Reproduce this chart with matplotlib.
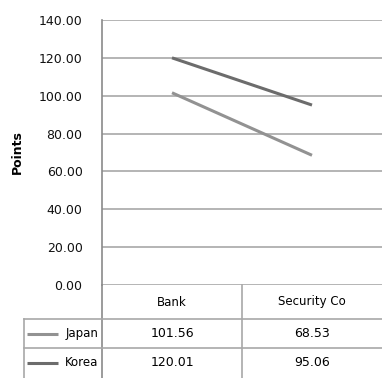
import numpy as np
import matplotlib
matplotlib.use('Agg')
import matplotlib.pyplot as plt

# datos
categories = ['Bank', 'Security Co']
series     = ['Japan', 'Korea']
japan      = [101.56, 68.53]
korea      = [120.01, 95.06]
colors     = ['#929292', '#6c6c6c']
yticks     = np.arange(0, 141, 20)

W, H = 382, 378
fig = plt.figure(figsize=(W/100., H/100.), dpi=100)

def box(x0, y0, x1, y1):
    # caja en pixeles (origen arriba a la izquierda)
    return [x0/float(W), 1 - y1/float(H), (x1-x0)/float(W), (y1-y0)/float(H)]

grid_c = '#a8a8a8'
axis_c = '#8a8a8a'

### grafico de lineas
ax = fig.add_axes(box(102, 20, 382, 285))
x = np.arange(len(categories))
for vals, c in zip([japan, korea], colors):
    ax.plot(x, vals, color=c, linewidth=2.2, solid_capstyle='butt')
ax.set_xlim(-0.5, len(categories) - 0.5)
ax.set_ylim(0, 140)
ax.set_yticks(yticks)
ax.set_yticklabels(['%.2f' % v for v in yticks], fontsize=9, color='#111111')
ax.set_xticks([])
for v in yticks:
    ax.axhline(v, color=grid_c, linewidth=1.2, zorder=0)
for s in ['top', 'right', 'bottom']:
    ax.spines[s].set_visible(False)
ax.spines['left'].set_color(axis_c)
ax.spines['left'].set_linewidth(1.2)
ax.tick_params(axis='y', length=0, pad=14)
fig.text(17/float(W), 1 - 152/float(H), 'Points', rotation=90, fontsize=9,
         fontweight='bold', ha='center', va='center')

### tabla de datos
tab = fig.add_axes(box(24, 285, 382, 378))
left = -0.5 - 78/140.
tab.set_xlim(left, len(categories) - 0.5)
tab.set_ylim(93, 0)
tab.axis('off')
rows = [0, 34, 63, 93]
kw = dict(color=grid_c, linewidth=1.2, clip_on=False)
tab.plot([-0.5, -0.5], [0, 93], color=axis_c, linewidth=1.2, clip_on=False)
tab.plot([0.5, 0.5], [0, 93], **kw)
tab.plot([left, left], [rows[1], 93], **kw)
for r in rows[1:3]:
    tab.plot([left, len(categories) - 0.5], [r, r], **kw)
for i, c in enumerate(categories):
    tab.text(i, (rows[0] + rows[1]) / 2., c, ha='center', va='center', fontsize=8.5)
for j, (name, vals, col) in enumerate(zip(series, [japan, korea], colors)):
    yc = (rows[j+1] + rows[j+2]) / 2.
    tab.plot([left + 3/140., left + 34/140.], [yc, yc], color=col, linewidth=2.2,
             solid_capstyle='butt', clip_on=False)
    tab.text(-0.5 - 4/140., yc, name, ha='right', va='center', fontsize=8.5)
    for i, v in enumerate(vals):
        tab.text(i, yc, '%.2f' % v, ha='center', va='center', fontsize=9)

plt.savefig('out.png', dpi=100)
